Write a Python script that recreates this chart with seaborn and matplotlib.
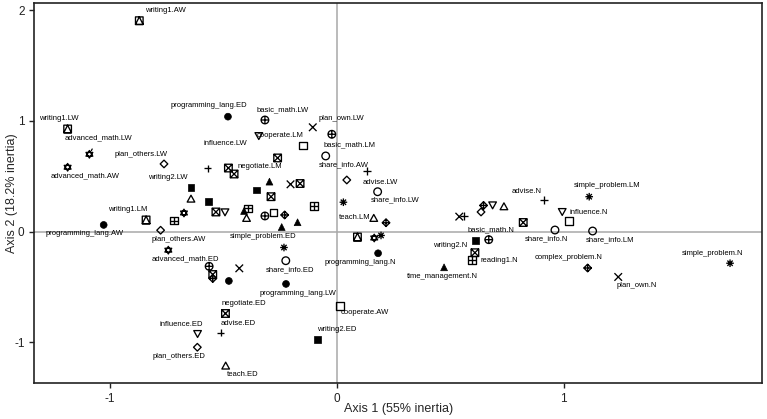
import numpy as np
import pandas as pd
import matplotlib
matplotlib.use("Agg")
import matplotlib.pyplot as plt
from matplotlib.path import Path
import seaborn as sns

# MCA category coordinates (Axis 1, Axis 2).
# level "" = point drawn without a label
variable = [
    "writing1", "writing1", "advanced_math", "advanced_math", "plan_others",
    "writing2", "programming_lang", "basic_math", "plan_own", "cooperate",
    "influence", "basic_math", "negotiate", "share_info", "advise",
    "share_info", "teach", "programming_lang", "plan_others", "advanced_math",
    "simple_problem", "share_info", "programming_lang", "negotiate", "advise",
    "influence", "plan_others", "teach", "writing2", "cooperate",
    "programming_lang", "writing1", "basic_math", "writing2", "reading1",
    "time_management", "advise", "influence", "share_info", "share_info",
    "simple_problem", "complex_problem", "plan_own", "simple_problem",
    # unlabeled
    "advise", "advise",
    "negotiate", "negotiate", "negotiate", "negotiate", "negotiate",
    "negotiate", "negotiate", "negotiate",
    "writing1", "advanced_math", "advanced_math", "programming_lang",
    "plan_others", "plan_others", "influence", "influence",
    "teach", "teach", "teach", "simple_problem", "simple_problem",
    "plan_own", "plan_own", "plan_own", "basic_math", "basic_math",
    "cooperate", "cooperate", "writing2", "writing2",
    "reading1", "reading1", "reading1",
    "time_management", "time_management", "time_management", "time_management",
    "complex_problem", "complex_problem", "complex_problem", "complex_problem",
]
level = [
    "AW", "LW", "LW", "AW", "LW", "LW", "ED", "LW", "LW", "LM",
    "LW", "LM", "LM", "AW", "LW", "LW", "LM", "N", "AW", "ED",
    "ED", "ED", "LW", "ED", "ED", "ED", "ED", "ED", "ED", "AW",
    "AW", "LM", "N", "N", "N", "N", "N", "N", "N", "LM",
    "LM", "N", "N", "N",
] + [""] * 43
dim1 = [
    -0.871, -1.187, -1.091, -1.187, -0.762, -0.643, -0.480, -0.317, -0.106, -0.148,
    -0.344, -0.022, -0.261, -0.049, 0.134, 0.180, 0.163, 0.182, -0.777, -0.743,
    -0.233, -0.225, -0.224, -0.491, -0.512, -0.614, -0.615, -0.490, -0.084, 0.014,
    -1.028, -0.841, 0.670, 0.612, 0.595, 0.473, 0.914, 0.994, 0.962, 1.128,
    1.113, 1.106, 1.241, 1.734,
    -0.570, 0.561,
    -0.478, -0.453, -0.162, -0.290, -0.533, -0.547, 0.609, 0.822,
    0.091, -0.674, 0.165, -0.476,
    0.044, 0.636, -0.493, 0.687,
    -0.643, -0.398, 0.737, 0.029, 0.195,
    -0.204, -0.430, 0.540, -0.317, -0.563,
    -0.279, 1.025, -0.565, -0.353,
    -0.718, -0.392, -0.100,
    -0.297, -0.409, -0.243, -0.173,
    -0.230, 0.217, 0.647, -0.547,
]
dim2 = [
    1.906, 0.928, 0.699, 0.582, 0.612, 0.397, 1.039, 1.009, 0.943, 0.780,
    0.867, 0.880, 0.666, 0.684, 0.548, 0.361, 0.121, -0.195, 0.013, -0.167,
    -0.143, -0.262, -0.472, -0.739, -0.912, -0.921, -1.044, -1.213, -0.972, -0.671,
    0.061, 0.106, -0.072, -0.082, -0.256, -0.322, 0.286, 0.181, 0.015, 0.006,
    0.316, -0.328, -0.409, -0.285,
    0.571, 0.142,
    0.575, 0.521, 0.435, 0.316, 0.178, -0.387, -0.190, 0.083,
    -0.048, 0.169, -0.057, -0.445,
    0.467, 0.178, 0.178, 0.241,
    0.295, 0.121, 0.226, 0.266, -0.034,
    0.428, -0.331, 0.136, 0.142, -0.313,
    0.172, 0.097, 0.275, 0.377,
    0.101, 0.211, 0.232,
    0.452, 0.187, 0.042, 0.085,
    0.151, 0.081, 0.237, -0.423,
]

# label placement relative to its point (pixels)
label_offsets = {
    "writing1.AW": (26, 10), "writing1.LW": (-9, 10), "advanced_math.LW": (9, 17),
    "advanced_math.AW": (18, -9), "plan_others.LW": (-23, 9), "writing2.LW": (-23, 10),
    "programming_lang.ED": (-19, 11), "basic_math.LW": (18, 10), "plan_own.LW": (29, 9),
    "cooperate.LM": (-23, 10), "influence.LW": (-33, -8), "basic_math.LM": (18, -10),
    "negotiate.LM": (-18, -9), "share_info.AW": (18, -9), "advise.LW": (13, -11),
    "share_info.LW": (18, -8), "teach.LM": (-19, 1), "programming_lang.N": (-18, -9),
    "plan_others.AW": (18, -9), "advanced_math.ED": (17, -9), "simple_problem.ED": (-21, 11),
    "share_info.ED": (4, -9), "programming_lang.LW": (12, -10), "negotiate.ED": (18, 10),
    "advise.ED": (17, 9), "influence.ED": (-16, 9), "plan_others.ED": (-18, -9),
    "teach.ED": (17, -9), "writing2.ED": (19, 10), "cooperate.AW": (25, -7),
    "programming_lang.AW": (-19, -9), "writing1.LM": (-18, 10), "basic_math.N": (2, 10),
    "writing2.N": (-25, -5), "reading1.N": (28, 0), "time_management.N": (-2, -9),
    "advise.N": (-17, 9), "influence.N": (26, -1), "share_info.N": (-8, -9),
    "share_info.LM": (17, -9), "simple_problem.LM": (18, 11), "complex_problem.N": (-19, 10),
    "plan_own.N": (18, -9), "simple_problem.N": (-18, 10),
}


def poly(pts):
    verts = list(pts) + [pts[0]]
    codes = [Path.MOVETO] + [Path.LINETO] * (len(pts) - 1) + [Path.CLOSEPOLY]
    return Path(verts, codes)


def seg(a, b):
    return Path([a, b], [Path.MOVETO, Path.LINETO])


def combo(*paths):
    return Path.make_compound_path(*paths)


SQ = poly([(-1, -1), (1, -1), (1, 1), (-1, 1)])
CIRC = Path.unit_circle()
TRI_UP = poly([(-1, -0.8), (1, -0.8), (0, 1)])
TRI_DN = poly([(-1, 0.8), (1, 0.8), (0, -1)])
DIAM = poly([(0, 1), (1, 0), (0, -1), (-1, 0)])
PLUS = combo(seg((-1, 0), (1, 0)), seg((0, -1), (0, 1)))
CROSS = combo(seg((-0.8, -0.8), (0.8, 0.8)), seg((-0.8, 0.8), (0.8, -0.8)))
CROSS_SQ = combo(seg((-1, -1), (1, 1)), seg((-1, 1), (1, -1)))
ASTER = combo(PLUS, seg((-0.7, -0.7), (0.7, 0.7)), seg((-0.7, 0.7), (0.7, -0.7)))

open_markers = {
    "writing1": combo(SQ, poly([(-1, -1), (1, -1), (0, 1)])),
    "advanced_math": combo(poly([(-0.9, -0.5), (0.9, -0.5), (0, 1)]),
                           poly([(-0.9, 0.5), (0.9, 0.5), (0, -1)])),
    "plan_others": DIAM,
    "influence": TRI_DN,
    "teach": TRI_UP,
    "advise": PLUS,
    "share_info": CIRC,
    "simple_problem": ASTER,
    "plan_own": CROSS,
    "basic_math": combo(CIRC, PLUS),
    "cooperate": SQ,
    "negotiate": combo(SQ, CROSS_SQ),
    "reading1": combo(SQ, PLUS),
    "complex_problem": combo(DIAM, PLUS),
}
filled_markers = {"programming_lang": "o", "writing2": "s", "time_management": "^"}

df = pd.DataFrame({"variable": variable, "level": level, "dim1": dim1, "dim2": dim2})
df["label"] = np.where(df["level"] != "", df["variable"] + "." + df["level"], "")

sns.set_style("ticks")
plt.rcParams["font.family"] = ["Liberation Sans", "DejaVu Sans"]
plt.rcParams["axes.unicode_minus"] = False

fig = plt.figure(figsize=(7.67, 4.19), dpi=100)
ax = fig.add_axes([0.0447, 0.0859, 0.9488, 0.9062])

ax.axhline(0, color="#a8a8a8", lw=1.1, zorder=0)
ax.axvline(0, color="#a8a8a8", lw=1.1, zorder=0)

d_open = df[df["variable"].isin(open_markers.keys())]
sns.scatterplot(data=d_open, x="dim1", y="dim2", style="variable",
                markers={v: open_markers[v] for v in d_open["variable"].unique()},
                s=30, facecolor="none", edgecolor="black", linewidth=0.95,
                legend=False, ax=ax, zorder=3)
d_fill = df[df["variable"].isin(filled_markers.keys())]
sns.scatterplot(data=d_fill, x="dim1", y="dim2", style="variable",
                markers={v: filled_markers[v] for v in d_fill["variable"].unique()},
                s=24, color="black", edgecolor="black", linewidth=0.5,
                legend=False, ax=ax, zorder=3)

for _, row in df[df["label"] != ""].iterrows():
    dx, dy = label_offsets.get(row["label"], (0, 10))
    arrow = None
    if row["label"] == "advanced_math.LW":
        arrow = dict(arrowstyle="-", color="black", lw=0.9, shrinkA=4, shrinkB=3)
    ax.annotate(row["label"], (row["dim1"], row["dim2"]), xytext=(dx, dy),
                textcoords="offset pixels", ha="center", va="center",
                fontsize=5.5, color="black", arrowprops=arrow, zorder=4)

ax.set_xlim(-1.334, 1.875)
ax.set_ylim(-1.367, 2.063)
ax.set_xticks([-1, 0, 1])
ax.set_yticks([-1, 0, 1, 2])
ax.tick_params(direction="out", length=3.5, width=1, labelsize=8.5, colors="#222222")
for sp in ax.spines.values():
    sp.set_visible(True)
    sp.set_color("#222222")
    sp.set_linewidth(1.2)

ax.set_xlabel("Axis 1 (55% inertia)", fontsize=9)
ax.set_ylabel("Axis 2 (18.2% inertia)", fontsize=9)
ax.xaxis.set_label_coords(0.5, -0.052)
ax.yaxis.set_label_coords(-0.023, 0.5)

fig.savefig("out.png", dpi=100)
